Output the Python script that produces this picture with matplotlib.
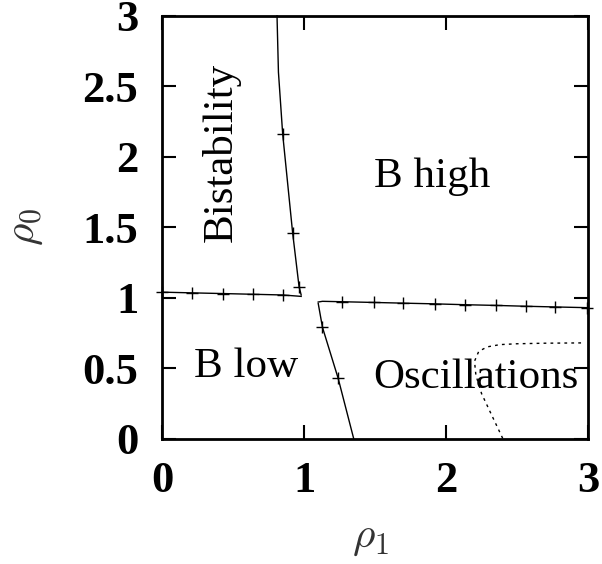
import numpy as np
import matplotlib.pyplot as plt

# boundary curves
bist_x = [0.81, 0.82, 0.85, 0.92, 0.965, 0.98]
bist_y = [3.0, 2.6, 2.16, 1.46, 1.08, 1.02]
bist_mx = [0.85, 0.92, 0.965]
bist_my = [2.16, 1.46, 1.08]

low_x = [0.0, 0.21, 0.43, 0.64, 0.85, 0.98]
low_y = [1.04, 1.035, 1.03, 1.025, 1.02, 1.01]
low_mx = [0.0, 0.21, 0.43, 0.64, 0.85]
low_my = [1.04, 1.035, 1.03, 1.025, 1.02]

high_x = [1.10, 1.13, 1.27, 1.49, 1.70, 1.92, 2.13, 2.35, 2.56, 2.77, 2.99]
high_y = [0.97, 0.975, 0.972, 0.967, 0.962, 0.957, 0.951, 0.946, 0.94, 0.935, 0.93]
high_mx = high_x[2:]
high_my = high_y[2:]

osc_x = [1.10, 1.13, 1.24, 1.35]
osc_y = [0.96, 0.79, 0.43, 0.0]
osc_mx = [1.13, 1.24]
osc_my = [0.79, 0.43]

hopf_x = [2.95, 2.7, 2.5, 2.38, 2.29, 2.23, 2.20, 2.21, 2.25, 2.32, 2.40]
hopf_y = [0.68, 0.678, 0.674, 0.668, 0.652, 0.62, 0.55, 0.45, 0.32, 0.17, 0.0]

xticks = [0, 1, 2, 3]
yticks = [0, 0.5, 1, 1.5, 2, 2.5, 3]
xticklabels = ["0", "1", "2", "3"]
yticklabels = ["0", "0.5", "1", "1.5", "2", "2.5", "3"]

plt.rcParams['font.family'] = ['Liberation Serif', 'DejaVu Serif']
plt.rcParams['mathtext.fontset'] = 'cm'

fig = plt.figure(figsize=(6.02, 5.64), dpi=100)
ax = fig.add_axes([0.269, 0.222, 0.708, 0.750])

lw = 1.0
ax.plot(bist_x, bist_y, color="black", lw=lw, clip_on=False)
ax.plot(low_x, low_y, color="black", lw=lw, clip_on=False)
ax.plot(high_x, high_y, color="black", lw=lw, clip_on=False)
ax.plot(osc_x, osc_y, color="black", lw=lw, clip_on=False)
for mx, my in [(bist_mx, bist_my), (low_mx, low_my), (high_mx, high_my), (osc_mx, osc_my)]:
    ax.plot(mx, my, ls="none", marker="+", ms=9, mew=1.0, color="black", clip_on=False)
ax.plot(hopf_x, hopf_y, color="black", lw=1.0, ls=(0, (2, 3)))

ax.text(0.42, 2.03, "Bistability", rotation=90, fontsize=31, ha="center", va="center")
ax.text(1.90, 1.86, "B high", fontsize=31, ha="center", va="center")
ax.text(0.59, 0.51, "B low", fontsize=31, ha="center", va="center")
ax.text(2.21, 0.43, "Oscillations", fontsize=31, ha="center", va="center")

ax.set_xlim(0, 3)
ax.set_ylim(0, 3)
ax.set_xticks(xticks)
ax.set_yticks(yticks)
ax.set_xticklabels(xticklabels)
ax.set_yticklabels(yticklabels)
ax.tick_params(direction="in", length=10, width=1.5, top=True, right=True,
               labelsize=32)
ax.tick_params(axis="x", pad=16)
ax.tick_params(axis="y", pad=17)
for lab in ax.get_xticklabels() + ax.get_yticklabels():
    lab.set_fontweight("bold")
for s in ax.spines.values():
    s.set_linewidth(2)

ax.set_xlabel(r"$\rho_1$", fontsize=31, color="#333333")
ax.set_ylabel(r"$\rho_0$", fontsize=31, color="#333333")
ax.xaxis.set_label_coords(0.49, -0.19)
ax.yaxis.set_label_coords(-0.275, 0.5)

fig.savefig("out.png", dpi=100)
